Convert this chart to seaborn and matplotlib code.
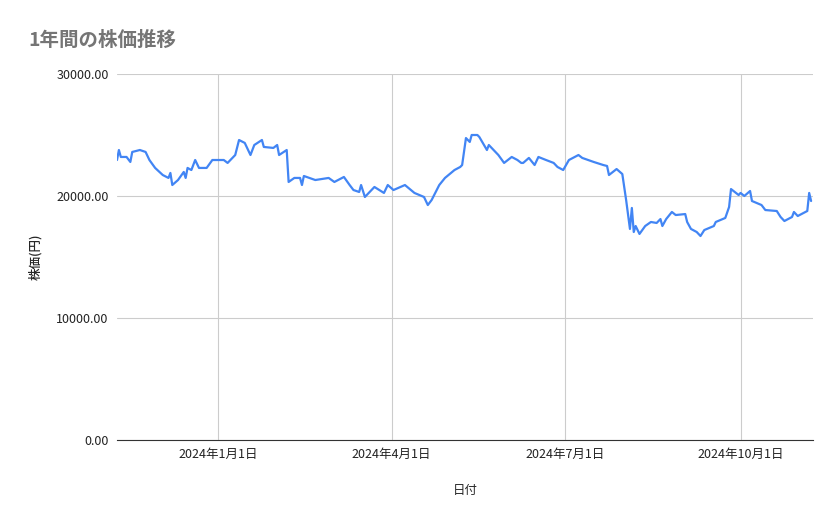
import pandas as pd
import seaborn as sns
import matplotlib
matplotlib.use('Agg')
import matplotlib.pyplot as plt

# 2023-11-09 からの経過日数と株価
day_offsets = [0, 1, 2, 5, 7, 8, 12, 15, 17, 20, 24, 27, 28, 29, 32, 35, 36, 37, 39, 41,
               43, 47, 50, 56, 58, 62, 64, 67, 70, 72, 76, 77, 82, 84, 85, 89, 90, 93, 96, 97,
               98, 104, 111, 114, 119, 122, 124, 127, 128, 130, 132, 135, 140, 142, 145, 151, 156, 161, 163, 165,
               169, 172, 177, 180, 181, 183, 185, 186, 189, 190, 194, 195, 200, 203, 207, 210, 212, 213, 216, 219,
               221, 225, 229, 231, 234, 237, 242, 244, 250, 255, 257, 258, 262, 265, 267, 269, 270, 271, 272, 274,
               277, 280, 283, 285, 286, 288, 291, 293, 298, 299, 301, 304, 306, 308, 313, 314, 319, 321, 322, 326,
               327, 329, 332, 333, 338, 340, 346, 348, 350, 354, 355, 357, 362, 363, 364]
prices = [22950, 23770, 23200, 23200, 22790, 23610, 23770, 23610, 22950, 22300, 21720, 21480, 21890, 20900, 21310, 21970, 21480, 22300, 22130, 22950,
          22300, 22300, 22950, 22950, 22710, 23360, 24590, 24350, 23360, 24180, 24590, 24020, 23940, 24180, 23360, 23770, 21150, 21480, 21480, 20900,
          21640, 21310, 21480, 21150, 21560, 20900, 20490, 20330, 20900, 19920, 20250, 20740, 20250, 20900, 20490, 20900, 20250, 19920, 19260, 19670,
          20900, 21480, 22130, 22380, 22540, 24750, 24430, 25000, 25000, 24840, 23770, 24180, 23360, 22710, 23200, 22950, 22710, 22710, 23120, 22540,
          23200, 22950, 22710, 22380, 22130, 22950, 23360, 23120, 22790, 22540, 22460, 21720, 22210, 21800, 19670, 17300, 19020, 17050, 17540, 16890,
          17540, 17870, 17790, 18110, 17540, 18110, 18690, 18440, 18520, 17870, 17300, 17050, 16720, 17210, 17540, 17870, 18200, 19100, 20570, 20080,
          20250, 20000, 20410, 19590, 19260, 18850, 18770, 18280, 17950, 18280, 18690, 18360, 18770, 20250, 19590]

tick_dates = ['2024-01-01', '2024-04-01', '2024-07-01', '2024-10-01']
tick_labels = ['2024年1月1日', '2024年4月1日', '2024年7月1日', '2024年10月1日']

df = pd.DataFrame({
    '日付': pd.Timestamp('2023-11-09') + pd.to_timedelta(day_offsets, unit='D'),
    '株価': prices,
})

sns.set_style('white')
plt.rcParams['font.family'] = ['Noto Sans CJK JP', 'DejaVu Sans']

fig = plt.figure(figsize=(8.39, 5.19), dpi=100)
ax = fig.add_axes([117 / 839, 1 - 440 / 519, (813 - 117) / 839, (440 - 74) / 519])
sns.lineplot(data=df, x='日付', y='株価', ax=ax, color='#4285f4', linewidth=1.6)

ax.set_xlim(pd.Timestamp('2023-11-09'), pd.Timestamp('2024-11-08'))
ax.set_ylim(0, 30000)
ax.set_yticks([0, 10000, 20000, 30000])
ax.set_yticklabels([f'{v:.2f}' for v in [0, 10000, 20000, 30000]])
ax.set_xticks(pd.to_datetime(tick_dates))
ax.set_xticklabels(tick_labels)
ax.grid(True, color='#cccccc', linewidth=0.8)
ax.tick_params(length=0, labelsize=9, colors='#222222', pad=6)
for s in ['top', 'right', 'left']:
    ax.spines[s].set_visible(False)
ax.spines['bottom'].set_color('#333333')
ax.set_xlabel('日付', fontsize=9, labelpad=16)
ax.set_ylabel('株価(円)', fontsize=9, labelpad=10, fontweight='medium')
fig.text(28 / 839, 1 - 40 / 519, '1年間の株価推移', fontsize=14, color='#757575',
         va='center', fontweight='bold')

fig.savefig('out.png', dpi=100)
